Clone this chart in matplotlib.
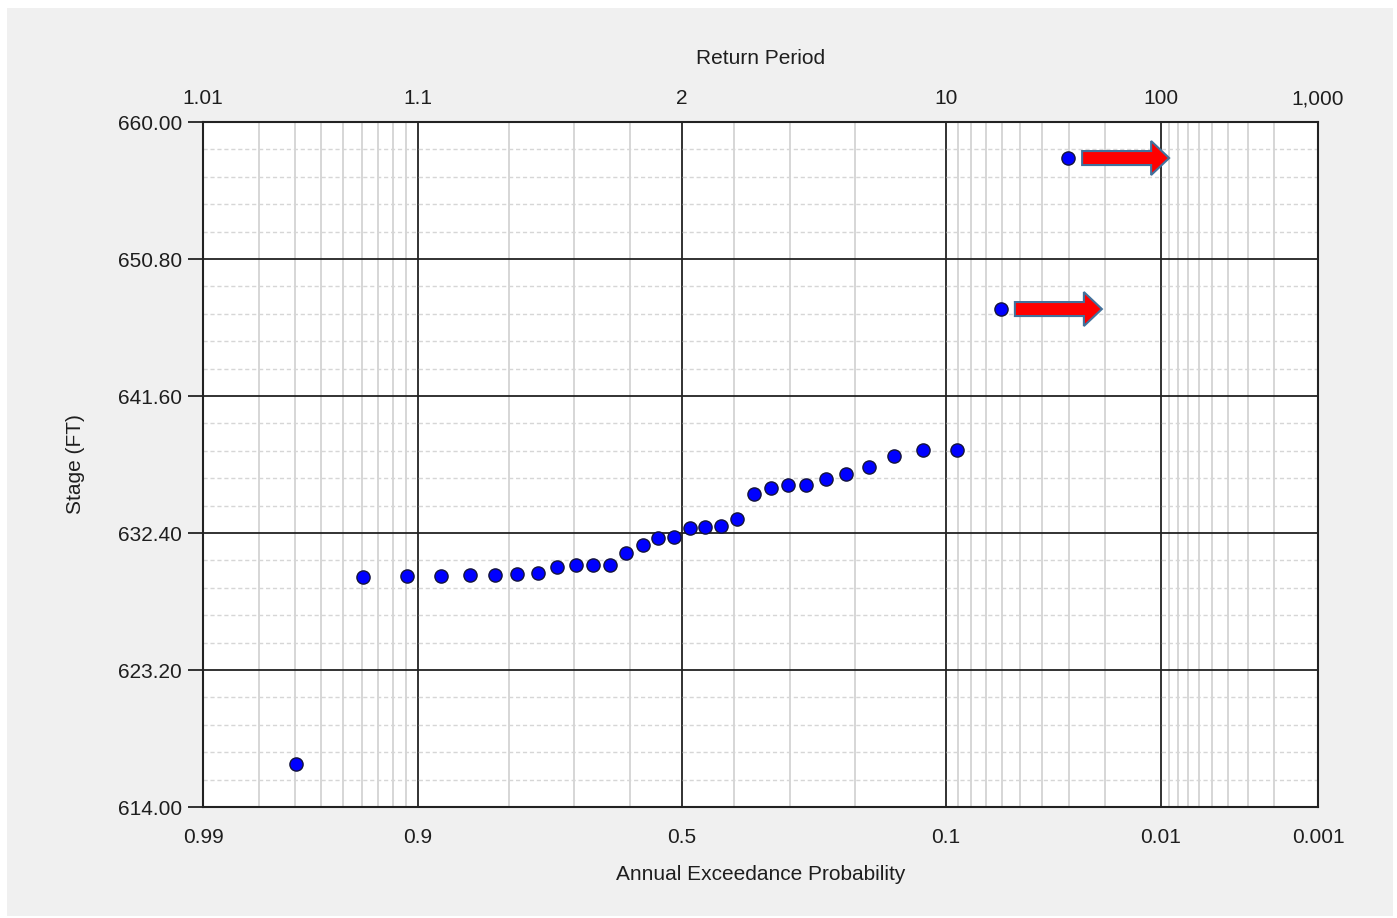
import math
from statistics import NormalDist

import numpy as np
import matplotlib
matplotlib.use('Agg')
import matplotlib.pyplot as plt
import matplotlib.patches as mpatches
import matplotlib.transforms as mtransforms
from matplotlib.ticker import FixedLocator, AutoMinorLocator

plt.rcParams['font.family'] = ['Liberation Sans', 'DejaVu Sans']

# 年最大水位とプロット位置（超過確率）
aep = [0.9697, 0.9394, 0.9091, 0.8788, 0.8485, 0.8182, 0.7879, 0.7576,
       0.7273, 0.6970, 0.6667, 0.6364, 0.6061, 0.5758, 0.5455, 0.5152,
       0.4848, 0.4545, 0.4242, 0.3939, 0.3636, 0.3333, 0.3030, 0.2727,
       0.2424, 0.2121, 0.1818, 0.1515, 0.1212, 0.0909, 0.0606, 0.0303]
stage = [616.89, 629.42, 629.53, 629.53, 629.56, 629.56, 629.67, 629.69,
         630.10, 630.23, 630.23, 630.27, 631.04, 631.59, 632.04, 632.11,
         632.75, 632.78, 632.87, 633.36, 635.04, 635.40, 635.62, 635.64,
         636.01, 636.34, 636.81, 637.59, 637.95, 637.95, 647.44, 657.58]

aep_ticks = [0.99, 0.9, 0.5, 0.1, 0.01, 0.001]
aep_labels = ['0.99', '0.9', '0.5', '0.1', '0.01', '0.001']
aep_minor = [0.98, 0.97, 0.96, 0.95, 0.94, 0.93, 0.92, 0.91,
             0.8, 0.7, 0.6, 0.4, 0.3, 0.2,
             0.09, 0.08, 0.07, 0.06, 0.05, 0.04, 0.03, 0.02,
             0.009, 0.008, 0.007, 0.006, 0.005, 0.004, 0.003, 0.002]
# 上側の再現期間ラベル（下側の目盛位置に対応）
rp_labels = ['1.01', '1.1', '2', '10', '100', '1,000']
stage_ticks = [614.0, 623.2, 632.4, 641.6, 650.8, 660.0]

_nd = NormalDist()
_ppf = np.vectorize(_nd.inv_cdf, otypes=[float])
_erfc = np.vectorize(math.erfc, otypes=[float])


def prob_fwd(p):
    # 正規確率紙
    p = np.clip(np.asarray(p, dtype=float), 1e-9, 1 - 1e-9)
    return _ppf(p)


def prob_inv(z):
    z = np.asarray(z, dtype=float)
    return 0.5 * _erfc(-z / math.sqrt(2.0))


W, H = 1397, 918
fig = plt.figure(figsize=(W / 100, H / 100), dpi=100, facecolor='white')
fig.patches.append(mpatches.Rectangle((7 / W, 1 - 916 / H), 1386 / W, 908 / H,
                                      transform=fig.transFigure, facecolor='#f0f0f0',
                                      edgecolor='none', zorder=-10))

ax = fig.add_axes([203 / W, 1 - 807 / H, 1115 / W, 685 / H])
ax.set_facecolor('white')
ax.set_xscale('function', functions=(prob_fwd, prob_inv))
ax.set_xlim(0.99, 0.001)  # 確率が小さいほど右
ax.set_ylim(614.0, 660.0)

txt = '#1e1e1e'
ax.xaxis.set_major_locator(FixedLocator(aep_ticks))
ax.set_xticklabels(aep_labels)
ax.xaxis.set_minor_locator(FixedLocator(aep_minor))
ax.set_yticks(stage_ticks)
ax.set_yticklabels([f'{v:.2f}' for v in stage_ticks])
ax.yaxis.set_minor_locator(AutoMinorLocator(5))

ax.tick_params(axis='x', which='both', length=0, pad=15, labelsize=15, labelcolor=txt)
ax.tick_params(axis='y', which='major', length=11, width=1.3, color='#222222',
               pad=4, labelsize=15, labelcolor=txt)
ax.tick_params(axis='y', which='minor', length=0)

ax.set_axisbelow(True)
ax.grid(which='minor', axis='x', color='#d6d6d6', lw=1.4, ls='-')
ax.grid(which='minor', axis='y', color='#d6d6d6', lw=1.0, ls=(0, (3, 2)))
ax.grid(which='major', color='#222222', lw=1.3, ls='-')
for sp in ax.spines.values():
    sp.set_color('#222222')
    sp.set_linewidth(1.5)

ax.set_xlabel('Annual Exceedance Probability', fontsize=15, color=txt, labelpad=13)
ax.set_ylabel('Stage (FT)', fontsize=15, color=txt, labelpad=24)

ax.plot(aep, stage, 'o', ms=9.5, mfc='#0000ff', mec='#14143c', mew=1.0,
        zorder=5, clip_on=False)

# 範囲外の再現期間を示す矢印（上位2点）
for p, s in zip(aep[-2:], stage[-2:]):
    trans = fig.dpi_scale_trans + mtransforms.ScaledTranslation(p, s, ax.transData)
    arr = mpatches.FancyArrow(0.14, 0.0, 0.87, 0.0, width=0.14, head_width=0.34,
                              head_length=0.18, length_includes_head=True,
                              transform=trans, facecolor='#ff0000',
                              edgecolor='#41719c', lw=1.5, zorder=6)
    ax.add_patch(arr)

# 上側：再現期間
ax2 = ax.twiny()
ax2.set_xscale('function', functions=(prob_fwd, prob_inv))
ax2.set_xlim(ax.get_xlim())
ax2.xaxis.set_major_locator(FixedLocator(aep_ticks))
ax2.set_xticklabels(rp_labels)
ax2.xaxis.set_minor_locator(FixedLocator([]))
ax2.tick_params(axis='x', which='both', length=0, pad=10, labelsize=15, labelcolor=txt)
for sp in ax2.spines.values():
    sp.set_visible(False)
ax2.set_xlabel('Return Period', fontsize=15, color=txt, labelpad=18)

fig.savefig('out.png', dpi=100, facecolor=fig.get_facecolor())
